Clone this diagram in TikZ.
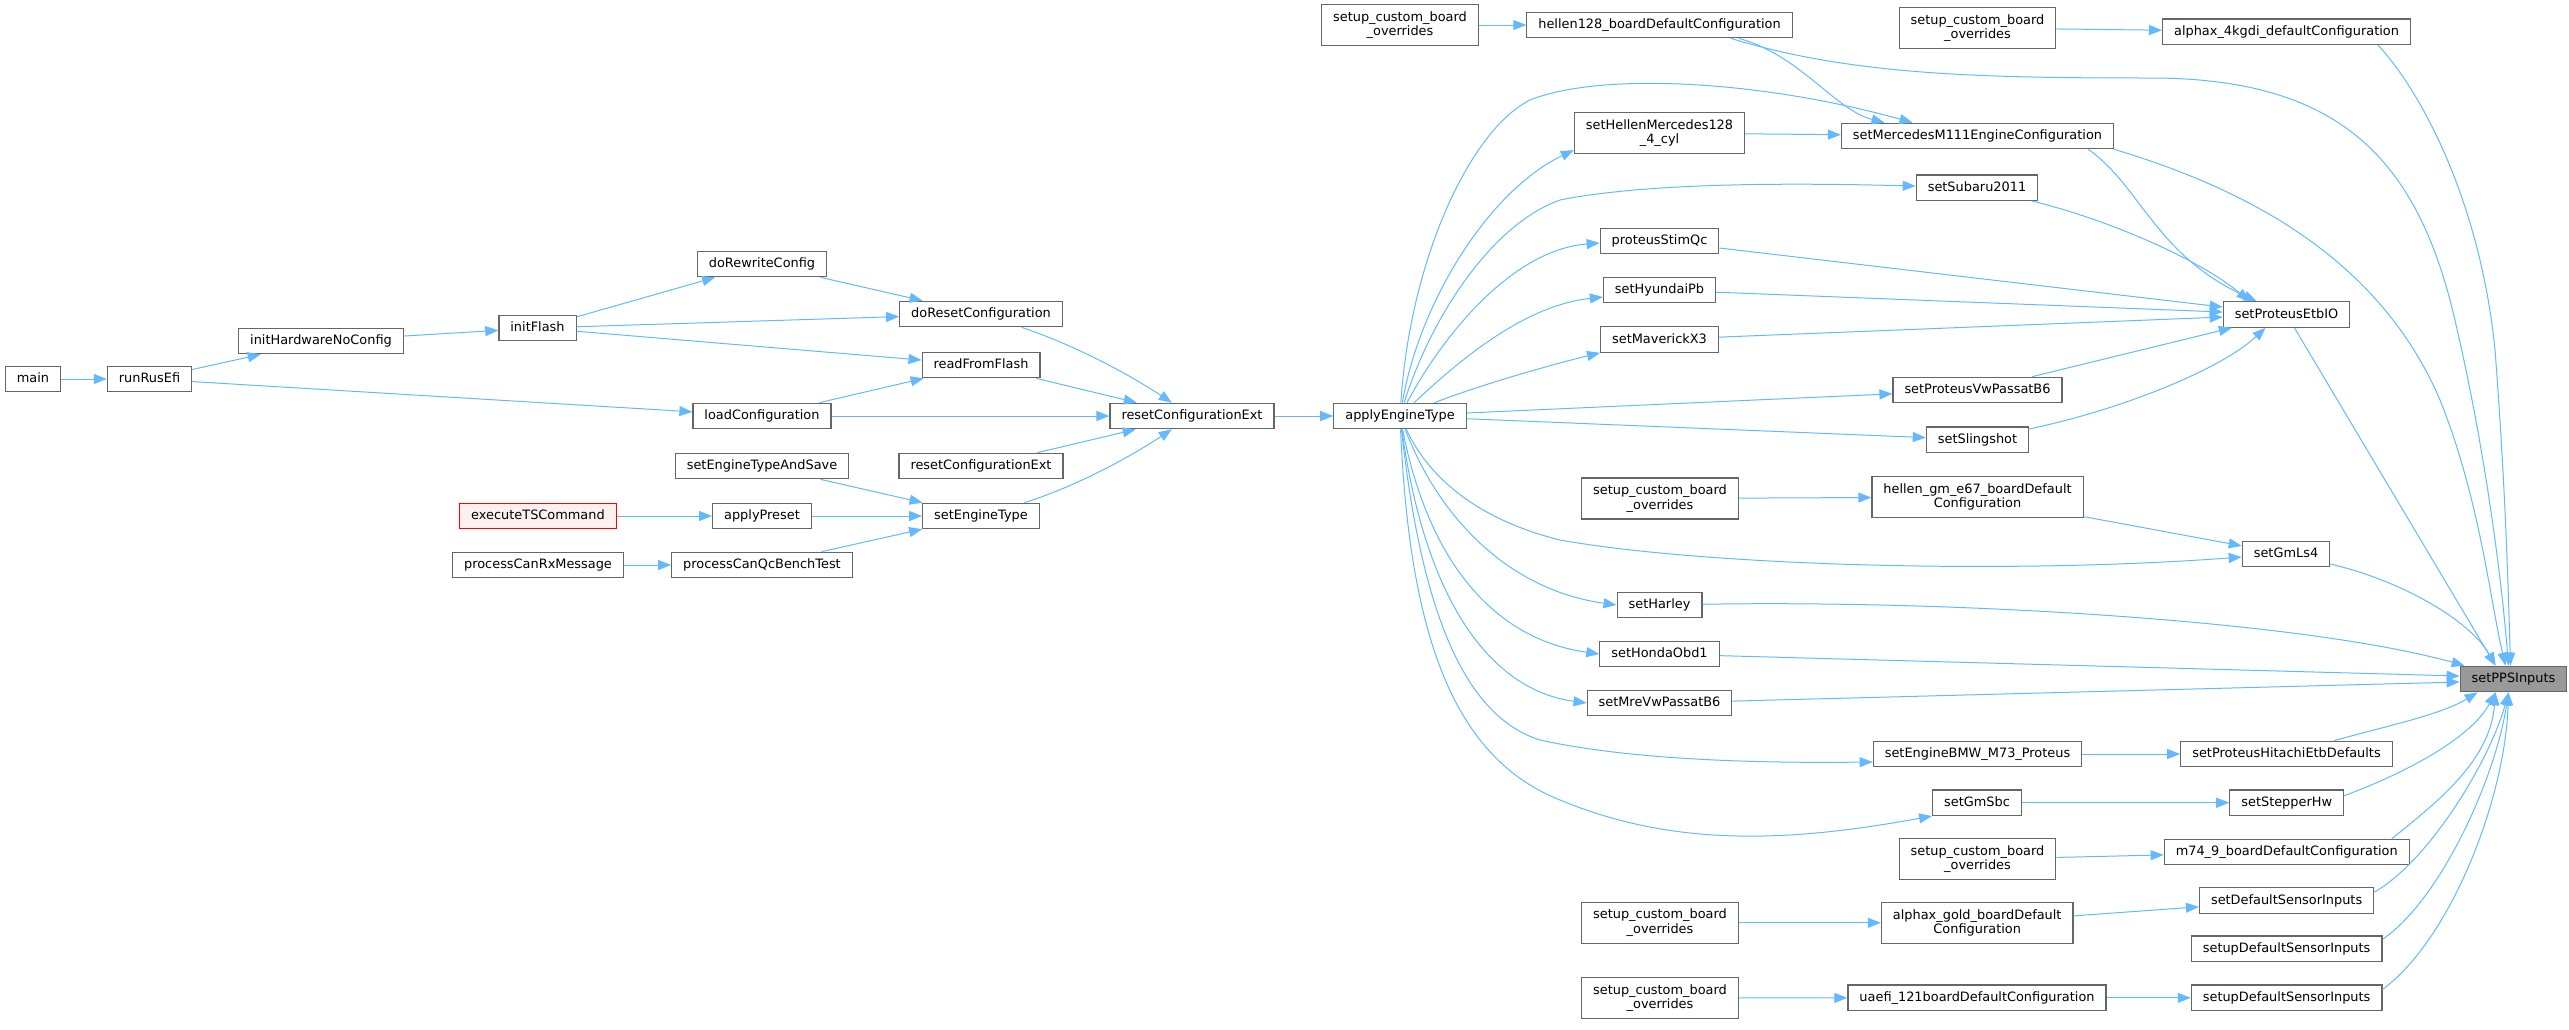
\documentclass[tikz,border=0pt]{standalone}
\usepackage{fontspec}
\setmainfont{DejaVu Sans}
\usetikzlibrary{arrows.meta}
\definecolor{edgeblue}{HTML}{63B8FF}
\definecolor{boxgray}{HTML}{666666}
\definecolor{rootgray}{HTML}{999999}
\definecolor{hotpink}{HTML}{FFF0F0}
\begin{document}
\begin{tikzpicture}[x=1pt, y=-1pt, ->, >={Triangle[length=13pt,width=10pt]}, line width=1pt, edgeblue,
         fnbase/.style={draw=boxgray, line width=1.2pt, fill=white, text=black,
           font=\fontsize{12.9}{14.5}\selectfont, inner xsep=11.5pt, inner ysep=0pt},
         fn/.style={fnbase, minimum height=25.5pt, text height=9.6pt, text depth=2.6pt},
         fntwo/.style={fnbase, align=center, minimum height=41pt},
         root/.style={fn, fill=rootgray},
         hot/.style={fn, draw=red, fill=hotpink}]
         \useasboundingbox (0,0) rectangle (2569,1029);
         %nodes
         \node[fn] at (33,379) (main) {main};
         \node[fn] at (149.5,379) (runrusefi) {runRusEfi};
         \node[fn] at (321,341) (inithw) {initHardwareNoConfig};
         \node[fn] at (537.5,328) (initflash) {initFlash};
         \node[fn] at (762,264) (dorewrite) {doRewriteConfig};
         \node[fn] at (981,314) (doreset) {doResetConfiguration};
         \node[fn] at (981,365) (readflash) {readFromFlash};
         \node[fn] at (762,416) (loadconf) {loadConfiguration};
         \node[fn] at (1192,416) (resetext) {resetConfigurationExt};
         \node[fn] at (1400,416) (applyeng) {applyEngineType};
         \node[fn] at (762,466) (settypesave) {setEngineTypeAndSave};
         \node[fn] at (981,466) (resetextb) {resetConfigurationExt};
         \node[hot] at (538,516) (exects) {executeTSCommand};
         \node[fn] at (762,516) (applypreset) {applyPreset};
         \node[fn] at (981,516) (setengtype) {setEngineType};
         \node[fn] at (538,565) (canrx) {processCanRxMessage};
         \node[fn] at (762,565) (canqc) {processCanQcBenchTest};
         \node[fntwo] at (1400,25) (scboa) {setup\_custom\_board\\\_overrides};
         \node[fn] at (1659.5,25) (hellen128) {hellen128\_boardDefaultConfiguration};
         \node[fntwo] at (1977.5,28) (scbob) {setup\_custom\_board\\\_overrides};
         \node[fn] at (2286.5,31.7) (alphax4k) {alphax\_4kgdi\_defaultConfiguration};
         \node[fntwo] at (1659.5,133) (hellmerc) {setHellenMercedes128\\\_4\_cyl};
         \node[fn] at (1977.5,136) (mercm111) {setMercedesM111EngineConfiguration};
         \node[fn] at (1977,187.7) (subaru) {setSubaru2011};
         \node[fn] at (1659.5,241) (stimqc) {proteusStimQc};
         \node[fn] at (1659.5,290) (hyundai) {setHyundaiPb};
         \node[fn] at (1659.5,339.5) (maverick) {setMaverickX3};
         \node[fn] at (2286.5,314.5) (etbio) {setProteusEtbIO};
         \node[fn] at (1977.5,390) (vwpassat) {setProteusVwPassatB6};
         \node[fn] at (1977.5,439.7) (slingshot) {setSlingshot};
         \node[fntwo] at (1660,498.5) (scboc) {setup\_custom\_board\\\_overrides};
         \node[fntwo] at (1977.5,497) (hellengm) {hellen\_gm\_e67\_boardDefault\\Configuration};
         \node[fn] at (2286,554) (gmls4) {setGmLs4};
         \node[fn] at (1659.5,605) (harley) {setHarley};
         \node[fn] at (1659.5,654) (honda) {setHondaObd1};
         \node[fn] at (1659.5,703) (mrevw) {setMreVwPassatB6};
         \node[root] at (2513.5,679) (pps) {setPPSInputs};
         \node[fn] at (1977.5,754) (bmwm73) {setEngineBMW\_M73\_Proteus};
         \node[fn] at (2286.5,754) (hitachi) {setProteusHitachiEtbDefaults};
         \node[fn] at (1977,802.7) (gmsbc) {setGmSbc};
         \node[fn] at (2286.7,802.7) (stepper) {setStepperHw};
         \node[fntwo] at (1977.5,859.3) (scbod) {setup\_custom\_board\\\_overrides};
         \node[fn] at (2286.7,852) (m749) {m74\_9\_boardDefaultConfiguration};
         \node[fn] at (2286.6,900.5) (defsens) {setDefaultSensorInputs};
         \node[fntwo] at (1660,922.8) (scboe) {setup\_custom\_board\\\_overrides};
         \node[fntwo] at (1977.2,922.8) (alphaxgold) {alphax\_gold\_boardDefault\\Configuration};
         \node[fn] at (2286.6,948.7) (setupsensa) {setupDefaultSensorInputs};
         \node[fntwo] at (1660,998) (scbof) {setup\_custom\_board\\\_overrides};
         \node[fn] at (1977,997.8) (uaefi) {uaefi\_121boardDefaultConfiguration};
         \node[fn] at (2286.6,997.8) (setupsensb) {setupDefaultSensorInputs};
         % arrows between nodes
         \draw (main) -- (runrusefi); \draw (runrusefi) -- (inithw); \draw (runrusefi) -- (loadconf);
         \draw (inithw) -- (initflash); \draw (initflash) -- (dorewrite); \draw (initflash) -- (doreset);
         \draw (initflash) -- (readflash); \draw (dorewrite) -- (doreset); \draw (loadconf) -- (readflash);
         \draw (loadconf) -- (resetext); \draw (readflash) -- (resetext); \draw (resetextb) -- (resetext);
         \draw (doreset) .. controls (1075,345) and (1130,375) .. (resetext);
         \draw (setengtype) .. controls (1075,487) and (1130,457) .. (resetext);
         \draw (settypesave) -- (setengtype); \draw (applypreset) -- (setengtype); \draw (canqc) -- (setengtype);
         \draw (exects) -- (applypreset); \draw (canrx) -- (canqc);
         \draw (resetext) -- (applyeng);
         % applyEngineType upwards
         \draw (applyeng) .. controls (1410,260) and (1470,130) .. (1530,100) .. controls (1600,72) and (1760,80) .. ([xshift=-65pt]mercm111.north);
         \draw (applyeng) .. controls (1420,300) and (1490,190) .. ([yshift=4pt]hellmerc.south west);
         \draw (applyeng) .. controls (1430,320) and (1490,225) .. (1560,200) .. controls (1650,182) and (1800,183) .. (subaru);
         \draw (applyeng) .. controls (1440,340) and (1510,250) .. ([yshift=-2pt]stimqc.west);
         \draw (applyeng) .. controls (1470,350) and (1530,305) .. ([yshift=-7pt]hyundai.west);
         \draw (applyeng) .. controls (1480,385) and (1550,365) .. (maverick.south west);
         \draw (applyeng) -- (vwpassat); \draw (applyeng) -- (slingshot);
         % applyEngineType downwards
         \draw (applyeng) .. controls (1430,480) and (1480,520) .. (1560,540) .. controls (1700,565) and (2000,575) .. ([yshift=-3pt]gmls4.west);
         \draw (applyeng) .. controls (1440,520) and (1510,590) .. (harley.west);
         \draw (applyeng) .. controls (1430,570) and (1500,640) .. (honda.west);
         \draw (applyeng) .. controls (1425,600) and (1490,690) .. (mrevw.west);
         \draw (applyeng) .. controls (1420,600) and (1460,715) .. (1540,740) .. controls (1640,762) and (1780,763) .. ([yshift=-8pt]bmwm73.west);
         \draw (applyeng) .. controls (1410,650) and (1460,760) .. (1560,800) .. controls (1680,850) and (1800,840) .. (gmsbc.south west);
         % middle columns
         \draw (scboa) -- (hellen128); \draw (scbob) -- (alphax4k); \draw (hellmerc) -- (mercm111);
         \draw ([xshift=-54pt]hellen128.south east) .. controls (1800,55) and (1835,110) .. ([xshift=-93pt]mercm111.north);
         \draw ([xshift=-26pt]mercm111.south east) .. controls (2140,185) and (2155,255) .. ([xshift=-30pt]etbio.north);
         \draw (subaru) .. controls (2110,220) and (2200,260) .. ([xshift=-37pt]etbio.north);
         \draw (stimqc) -- (etbio); \draw (hyundai) -- (etbio); \draw (maverick) -- (etbio); \draw (vwpassat) -- (etbio);
         \draw (slingshot) .. controls (2120,410) and (2220,370) .. ([xshift=-21pt]etbio.south);
         \draw (scboc) -- (hellengm); \draw (hellengm) -- (gmls4);
         \draw (bmwm73) -- (hitachi); \draw (gmsbc) -- (stepper); \draw (scbod) -- (m749);
         \draw (scboe) -- (alphaxgold); \draw (alphaxgold) -- (defsens);
         \draw (scbof) -- (uaefi); \draw (uaefi) -- (setupsensb);
         % into setPPSInputs
         \draw ([xshift=-62pt]hellen128.south east) .. controls (1850,75) and (1980,78) .. (2150,78) .. controls (2330,78) and (2410,150) .. (2450,300) .. controls (2480,420) and (2500,560) .. ([xshift=-5pt]pps.north);
         \draw ([xshift=-33pt]alphax4k.south east) .. controls (2420,90) and (2480,200) .. (2495,350) .. controls (2505,480) and (2508,580) .. ([xshift=-3pt]pps.north);
         \draw (mercm111.south east) .. controls (2250,190) and (2380,260) .. (2440,400) .. controls (2480,500) and (2490,600) .. ([xshift=-8pt]pps.north);
         \draw (etbio) -- ([xshift=-18pt]pps.north);
         \draw (gmls4) .. controls (2400,580) and (2470,620) .. ([xshift=-18pt]pps.north);
         \draw (harley) .. controls (1950,600) and (2300,620) .. ([xshift=5pt]pps.north west);
         \draw (honda) -- ([yshift=3pt]pps.west); \draw (mrevw) -- ([yshift=-3pt]pps.west);
         \draw (hitachi) .. controls (2390,725) and (2440,715) .. ([xshift=18pt]pps.south west);
         \draw ([yshift=7pt]stepper.east) .. controls (2400,775) and (2470,740) .. ([xshift=-18pt]pps.south);
         \draw ([xshift=-18pt]m749.north east) .. controls (2440,800) and (2490,760) .. ([xshift=-18pt]pps.south);
         \draw ([yshift=-5pt]defsens.north east) .. controls (2430,860) and (2490,760) .. ([xshift=-5pt]pps.south);
         \draw ([yshift=-4pt]setupsensa.north east) .. controls (2440,900) and (2495,780) .. ([xshift=-5pt]pps.south);
         \draw ([yshift=-5pt]setupsensb.north east) .. controls (2450,940) and (2505,800) .. ([xshift=-5pt]pps.south);
\end{tikzpicture}
\end{document}
